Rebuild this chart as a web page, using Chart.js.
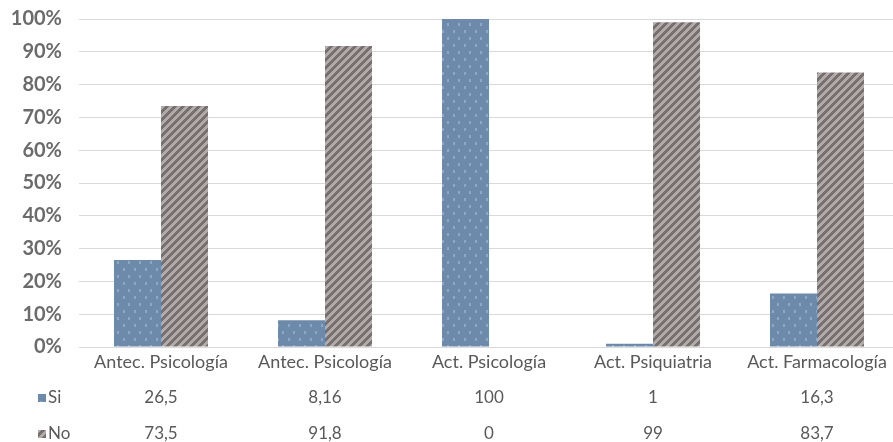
<!DOCTYPE html>
<html><head><meta charset="utf-8">
<script src="https://cdn.jsdelivr.net/npm/chart.js@4.4.0/dist/chart.umd.min.js"></script>
<style>html,body{margin:0;padding:0;background:#fff;overflow:hidden}#wrap{width:899px;height:442px}</style>
</head><body><div id="wrap"><canvas id="c" width="899" height="442"></canvas></div>
<script>
const categories = ["Antec. Psicología","Antec. Psicología","Act. Psicología","Act. Psiquiatria","Act. Farmacología"];
const siValues = [26.5, 8.16, 100, 1, 16.3];
const noValues = [73.5, 91.8, 0, 99, 83.7];
const seriesNames = ["Si","No"];
const yTicks = [0,10,20,30,40,50,60,70,80,90,100];

function dotPattern(){
  const c=document.createElement('canvas');c.width=11;c.height=14;
  const x=c.getContext('2d');
  x.fillStyle='#6e8aab';x.fillRect(0,0,11,14);
  x.fillStyle='#8da7c6';
  x.fillRect(2,2,2,3);x.fillRect(7,9,2,3);
  return x.createPattern(c,'repeat');
}
function stripePattern(){
  const n=8;
  const c=document.createElement('canvas');c.width=n;c.height=n;
  const x=c.getContext('2d');
  x.fillStyle='#b0aaaa';x.fillRect(0,0,n,n);
  x.fillStyle='#77706f';
  for(let i=0;i<n;i++){
    for(let k=0;k<4;k++){
      const px=((n-1-i)+k+n)%n;
      x.fillRect(px,i,1,1);
    }
  }
  return x.createPattern(c,'repeat');
}
const pSi=dotPattern(), pNo=stripePattern();

const tablePlugin={
  id:'table',
  afterDraw(chart){
    const ctx=chart.ctx, xs=chart.scales.x;
    ctx.save();
    ctx.font='17px Lato';ctx.fillStyle='#595959';
    ctx.textAlign='center';ctx.textBaseline='middle';
    const rows=[[siValues,398,pSi],[noValues,434,pNo]];
    rows.forEach((r,ri)=>{
      r[0].forEach((v,i)=>{
        ctx.fillText(String(v).replace('.',','),xs.getPixelForValue(i),r[1]);
      });
      ctx.fillStyle=r[2];ctx.fillRect(38,r[1]-4,8,8);
      ctx.fillStyle='#595959';ctx.textAlign='left';
      ctx.fillText(seriesNames[ri],48,r[1]);
      ctx.textAlign='center';
    });
    ctx.restore();
  }
};

new Chart(document.getElementById('c'),{
  type:'bar',
  data:{labels:categories,datasets:[
    {label:seriesNames[0],data:siValues,backgroundColor:pSi,borderWidth:0},
    {label:seriesNames[1],data:noValues,backgroundColor:pNo,borderWidth:0}
  ]},
  options:{
    responsive:false,animation:false,
    categoryPercentage:0.573,barPercentage:1,
    layout:{padding:{top:19,right:0,left:0,bottom:0}},
    plugins:{legend:{display:false},tooltip:{enabled:false}},
    scales:{
      x:{
        grid:{display:false,drawTicks:false},
        border:{color:'#d9d9d9',width:1},
        ticks:{color:'#595959',font:{family:'Lato',size:18},padding:4,maxRotation:0,autoSkip:false},
        afterFit(s){s.height=95;s.paddingLeft=0;s.paddingRight=0;}
      },
      y:{
        min:0,max:100,
        afterBuildTicks(s){s.ticks=yTicks.map(v=>({value:v}));},
        grid:{color:'#d9d9d9',drawTicks:false},
        border:{display:false},
        ticks:{color:'#6b6b6b',font:{family:'Lato',size:20,weight:'bold'},padding:17,callback:v=>v+'%'},
        afterFit(s){s.width=79;s.paddingTop=0;s.paddingBottom=0;}
      }
    }
  },
  plugins:[tablePlugin]
});
</script></body></html>
